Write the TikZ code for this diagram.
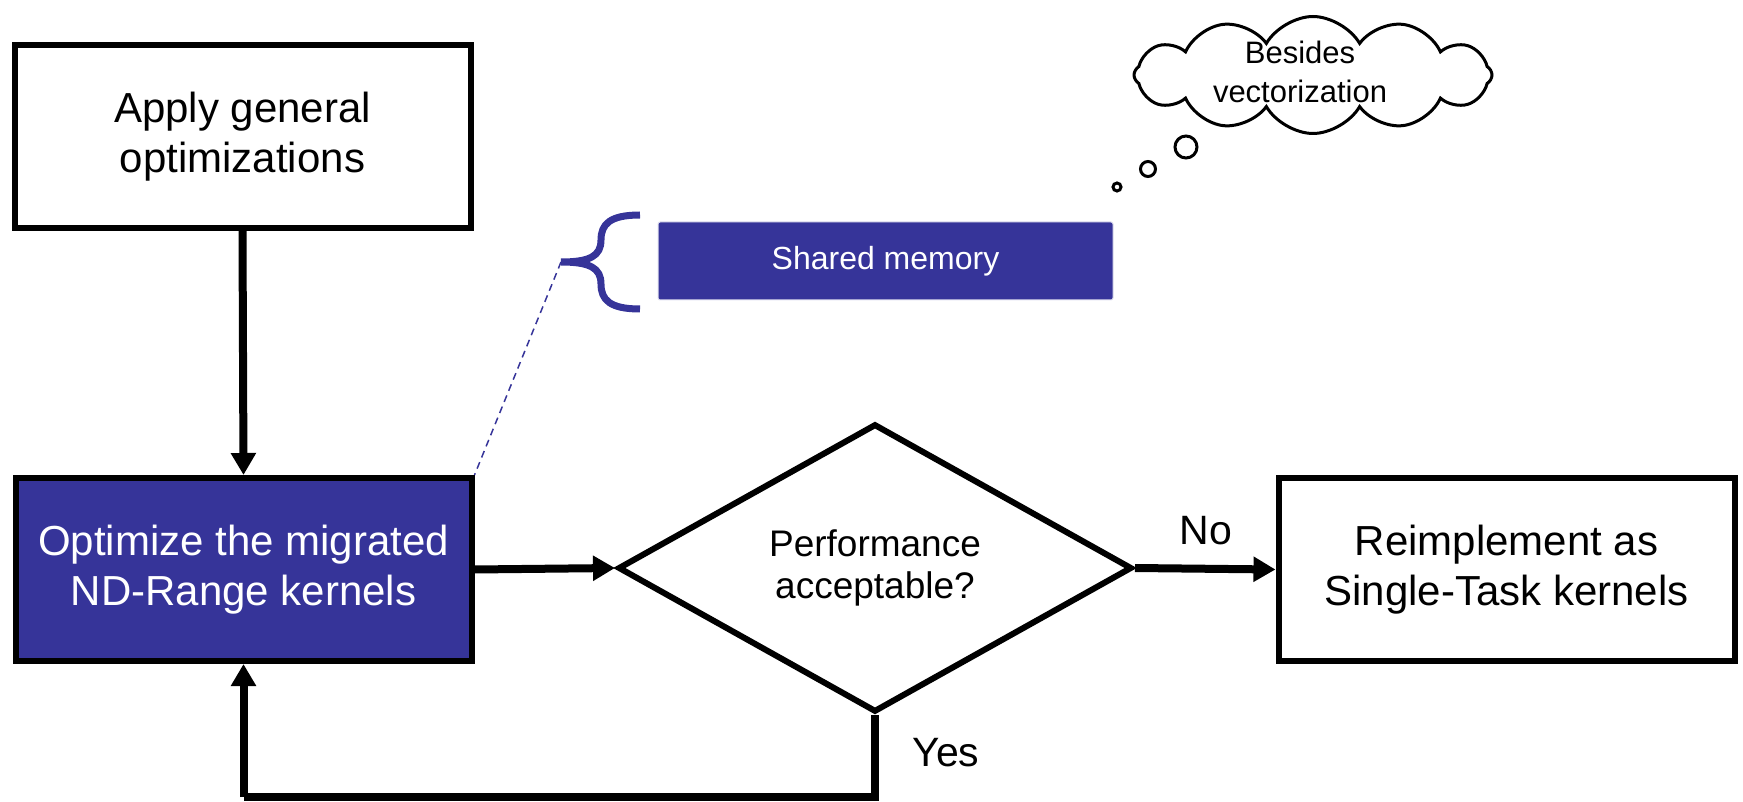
\documentclass[tikz,border=0pt]{standalone}
\usepackage{fontspec}
\setmainfont{Liberation Sans}
\usetikzlibrary{arrows.meta,shapes.geometric,shapes.symbols,calc}
\definecolor{kblue}{RGB}{54,52,153}
\tikzset{
  box/.style={draw=black, line width=6pt, rectangle, minimum width=456pt, minimum height=183pt,
              align=center, font=\fontsize{42}{50}\selectfont, inner sep=0pt},
  flow/.style={line width=8pt, -{Triangle[length=22pt,width=24pt]}},
  loopline/.style={line width=8pt},
  lbl/.style={font=\fontsize{41}{48}\selectfont, inner sep=0pt},
  bubble/.style={draw=black, circle, line width=3pt, inner sep=0pt},
}
\begin{document}
\begin{tikzpicture}[x=1pt,y=-1pt]
\useasboundingbox (0,0) rectangle (1743,802);

% process boxes
\node[box] (apply) at (242.5,136.5) {Apply general\\optimizations};
\node[box, fill=kblue, text=white] (optim) at (243.5,569.5) {Optimize the migrated\\ND-Range kernels};
\node[box] (reimpl) at (1506.5,569.5) {Reimplement as\\Single-Task kernels};

% decision
\node[diamond, draw=black, line width=6pt, minimum width=514pt, minimum height=286pt,
      inner sep=0pt, align=center, font=\fontsize{37}{42}\selectfont] (decide) at (875,568)
      {Performance\\acceptable?};

% main flow
\draw[flow] (apply.south) -- (optim.north);
\draw[flow] (optim.east) -- (decide.west);
\draw[flow] (decide.east) -- (reimpl.west);
\coordinate (loopR) at (875,797);
\coordinate (loopL) at (243.5,797);
\draw[loopline] (decide.south) -- (loopR) -- (loopL);
\draw[flow] (loopL) -- (optim.south);

\node[lbl] (no) at (1206,531) {No};
\node[lbl] (yes) at (946,753) {Yes};

% annotation: shared memory
\node[rectangle, fill=kblue, draw=white!85!kblue, line width=1pt, rounded corners=2pt,
      minimum width=455pt, minimum height=78pt, text=white,
      font=\fontsize{32}{38}\selectfont] (shared) at (885.5,261) {Shared memory};
\coordinate (tip) at (561,262);
\draw[kblue, line width=7pt]
  (640,215) .. controls (610,215) and (601,224) .. (601,240)
  .. controls (601,256) and (590,262) .. (tip)
  .. controls (590,262) and (601,268) .. (601,284)
  .. controls (601,300) and (610,309) .. (640,309);
\draw[kblue, line width=1.5pt, dash pattern=on 7pt off 5pt] (tip) -- (optim.north east);

% thought cloud
\node[cloud, draw=black, line width=3pt, cloud puffs=12, cloud puff arc=120, aspect=3,
      minimum width=358pt, minimum height=117pt, inner sep=0pt] (cloud) at (1313,75) {};
\node[align=center, font=\fontsize{31}{39}\selectfont, inner sep=0pt] (cloudtxt) at (1300,72)
      {Besides\\vectorization};
\node[bubble, minimum size=22pt] (b1) at (1186,147) {};
\node[bubble, minimum size=15pt] (b2) at (1148,169) {};
\node[bubble, minimum size=8pt] (b3) at (1117,187) {};
\end{tikzpicture}
\end{document}
